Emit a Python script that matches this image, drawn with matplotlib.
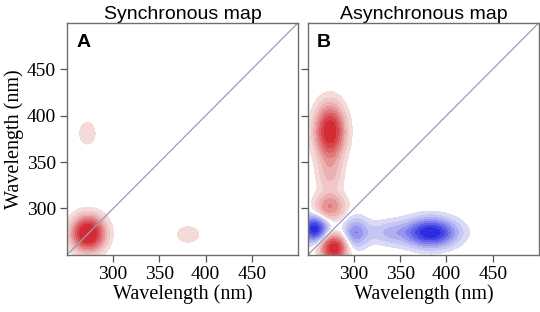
import matplotlib.pyplot as plt
import numpy as np

# wavelength axis (nm)
wl_min, wl_max = 250, 500
ticks = [300, 350, 400, 450]
titles = ["Synchronous map", "Asynchronous map"]
panel_labels = ["A", "B"]

# synchronous peaks: (x, y, amplitude, sigma_x, sigma_y)
sync_peaks = [
    (273, 273, 1.00, 10.5, 11),
    (272, 381, 0.08, 6.5, 9),
    (381, 272, 0.08, 9, 6.5),
]

# asynchronous peaks above the diagonal; mirrored with opposite sign
async_peaks = [
    (274, 383, 0.85, 9.5, 17),
    (274, 340, 0.18, 8.5, 16),
    (274, 302, 0.33, 10, 9),
    (257, 278, -0.80, 9, 8.5),
]

grid = np.linspace(wl_min, wl_max, 126)
X, Y = np.meshgrid(grid, grid)


def gauss(px, py, a, sx, sy):
    return a * np.exp(-((X - px) ** 2) / (2 * sx ** 2) - ((Y - py) ** 2) / (2 * sy ** 2))


sync = sum(gauss(*p) for p in sync_peaks)
asyn = sum(gauss(px, py, a, sx, sy) - gauss(py, px, a, sy, sx)
           for px, py, a, sx, sy in async_peaks)

reds = ["#f5dada", "#f0c6c6", "#ebb0b1", "#e69597", "#e17a7e", "#dc5f64", "#d8444b", "#d42c35"]
blues = ["#dadaf7", "#c6c6f4", "#b0b0f1", "#9696ee", "#7b7beb", "#5f5fe8", "#4444e4", "#2c2ce0"]
pos_levels = [0.035, 0.09, 0.16, 0.24, 0.33, 0.43, 0.55, 0.68, 2.0]

fig = plt.figure(figsize=(5.4, 3.12), dpi=100)
axes = [fig.add_axes([0.124, 0.183, 0.428, 0.744]),
        fig.add_axes([0.570, 0.183, 0.428, 0.744])]

# synchronous
axes[0].contourf(X, Y, sync, levels=pos_levels, colors=reds)

# asynchronous
neg_levels = [-v for v in pos_levels[::-1]]
levels = neg_levels + pos_levels
colors = blues[::-1] + ["white"] + reds
axes[1].contourf(X, Y, asyn, levels=levels, colors=colors)

for i, ax in enumerate(axes):
    ax.plot([wl_min, wl_max], [wl_min, wl_max], color="#9a9ac0", lw=0.9)
    ax.set_xlim(wl_min, wl_max)
    ax.set_ylim(wl_min, wl_max)
    ax.set_xticks(ticks)
    ax.set_yticks(ticks)
    for s in ax.spines.values():
        s.set_color("#6e6e6e")
        s.set_linewidth(1.0)
    ax.tick_params(direction="out", length=5, width=0.9, color="#555555",
                   labelsize=14, pad=3)
    for lab in ax.get_xticklabels() + ax.get_yticklabels():
        lab.set_family("Liberation Serif")
    ax.set_xlabel("Wavelength (nm)", family="Liberation Serif", fontsize=14.5, labelpad=1)
    ax.set_title(titles[i], family="Liberation Sans", fontsize=14, pad=3)
    ax.text(0.04, 0.95, panel_labels[i], transform=ax.transAxes, family="Liberation Sans",
            fontweight="bold", fontsize=14, va="top", ha="left")

axes[1].set_yticklabels([])
axes[0].set_ylabel("Wavelength (nm)", family="Liberation Serif", fontsize=14.5, labelpad=2)

fig.savefig("out.png", dpi=100)
